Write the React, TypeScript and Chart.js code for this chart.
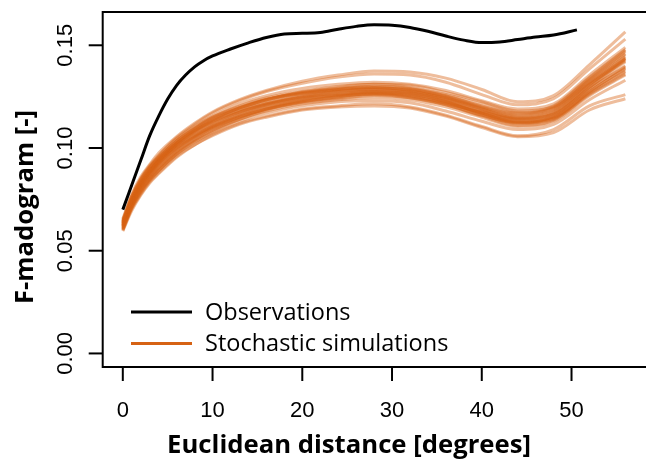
import React, { useEffect, useRef } from "react";
import { Chart, registerables } from "chart.js";

Chart.register(...registerables);

// Observed F-madogram against Euclidean distance (degrees)
const obsDistance = [0, 1, 2, 3, 4, 5, 6, 7, 8, 9, 10, 12, 14, 16, 18, 20, 22, 24, 26, 28, 30, 32, 34, 36, 38, 40, 42, 44, 46, 48, 50.6];
const obsMadogram = [0.070, 0.082, 0.094, 0.106, 0.1155, 0.1238, 0.1305, 0.1355, 0.1395, 0.1425, 0.1448, 0.1482, 0.1512, 0.1538, 0.1555, 0.1558, 0.1562, 0.1578, 0.1592, 0.1600, 0.1598, 0.1587, 0.1568, 0.1545, 0.1525, 0.1513, 0.1516, 0.1528, 0.1540, 0.1550, 0.1575];

// Madograms of the stochastic simulations, all on the same distance grid
const simDistance = [0, 1, 2, 3, 4, 6, 8, 10, 13, 16, 20, 24, 28, 32, 36, 40, 44, 48, 52, 56];
const sim01 = [0.0655, 0.0775, 0.0860, 0.0920, 0.0975, 0.1055, 0.1120, 0.1175, 0.1235, 0.1280, 0.1325, 0.1355, 0.1375, 0.1370, 0.1340, 0.1285, 0.1225, 0.1255, 0.1405, 0.1565];
const sim02 = [0.0645, 0.0765, 0.0850, 0.0915, 0.0965, 0.1050, 0.1115, 0.1170, 0.1230, 0.1275, 0.1315, 0.1345, 0.1360, 0.1355, 0.1320, 0.1260, 0.1210, 0.1240, 0.1385, 0.1530];
const sim03 = [0.0595, 0.0695, 0.0770, 0.0830, 0.0875, 0.0955, 0.1015, 0.1060, 0.1115, 0.1150, 0.1185, 0.1200, 0.1205, 0.1195, 0.1155, 0.1100, 0.1055, 0.1075, 0.1185, 0.1240];
const sim04 = [0.0600, 0.0705, 0.0775, 0.0835, 0.0880, 0.0960, 0.1015, 0.1065, 0.1120, 0.1155, 0.1190, 0.1205, 0.1215, 0.1200, 0.1160, 0.1105, 0.1060, 0.1090, 0.1205, 0.1260];
const sim05 = [0.0645, 0.0765, 0.0850, 0.0910, 0.0960, 0.1045, 0.1105, 0.1155, 0.1215, 0.1255, 0.1290, 0.1310, 0.1320, 0.1310, 0.1280, 0.1230, 0.1190, 0.1215, 0.1355, 0.1490];
const sim06 = [0.0640, 0.0755, 0.0840, 0.0905, 0.0955, 0.1035, 0.1095, 0.1150, 0.1205, 0.1245, 0.1275, 0.1295, 0.1310, 0.1305, 0.1270, 0.1225, 0.1180, 0.1200, 0.1335, 0.1470];
const sim07 = [0.0635, 0.0750, 0.0835, 0.0895, 0.0945, 0.1025, 0.1090, 0.1140, 0.1195, 0.1235, 0.1275, 0.1300, 0.1310, 0.1295, 0.1255, 0.1200, 0.1160, 0.1190, 0.1325, 0.1455];
const sim08 = [0.0630, 0.0745, 0.0825, 0.0885, 0.0940, 0.1020, 0.1080, 0.1130, 0.1185, 0.1220, 0.1255, 0.1275, 0.1290, 0.1285, 0.1255, 0.1205, 0.1170, 0.1200, 0.1340, 0.1475];
const sim09 = [0.0625, 0.0740, 0.0820, 0.0880, 0.0930, 0.1010, 0.1065, 0.1115, 0.1175, 0.1215, 0.1250, 0.1265, 0.1275, 0.1265, 0.1230, 0.1175, 0.1135, 0.1160, 0.1295, 0.1420];
const sim10 = [0.0620, 0.0730, 0.0810, 0.0870, 0.0915, 0.0995, 0.1055, 0.1110, 0.1165, 0.1210, 0.1250, 0.1275, 0.1285, 0.1270, 0.1235, 0.1180, 0.1140, 0.1170, 0.1310, 0.1440];
const sim11 = [0.0615, 0.0720, 0.0800, 0.0860, 0.0910, 0.0990, 0.1050, 0.1095, 0.1150, 0.1190, 0.1225, 0.1245, 0.1260, 0.1250, 0.1220, 0.1170, 0.1130, 0.1150, 0.1275, 0.1385];
const sim12 = [0.0610, 0.0715, 0.0795, 0.0850, 0.0900, 0.0980, 0.1040, 0.1090, 0.1140, 0.1180, 0.1215, 0.1235, 0.1245, 0.1235, 0.1200, 0.1150, 0.1105, 0.1130, 0.1255, 0.1355];
const sim13 = [0.0605, 0.0710, 0.0785, 0.0845, 0.0890, 0.0970, 0.1030, 0.1075, 0.1130, 0.1170, 0.1205, 0.1225, 0.1230, 0.1220, 0.1180, 0.1130, 0.1090, 0.1115, 0.1235, 0.1330];
const sim14 = [0.0635, 0.0750, 0.0830, 0.0890, 0.0945, 0.1025, 0.1085, 0.1135, 0.1190, 0.1235, 0.1265, 0.1285, 0.1295, 0.1280, 0.1245, 0.1190, 0.1150, 0.1180, 0.1315, 0.1435];
const sim15 = [0.0620, 0.0725, 0.0805, 0.0865, 0.0920, 0.1000, 0.1060, 0.1105, 0.1160, 0.1200, 0.1230, 0.1250, 0.1265, 0.1260, 0.1225, 0.1165, 0.1120, 0.1140, 0.1265, 0.1370];
const sim16 = [0.0625, 0.0735, 0.0815, 0.0880, 0.0935, 0.1015, 0.1075, 0.1125, 0.1175, 0.1215, 0.1245, 0.1260, 0.1270, 0.1255, 0.1215, 0.1160, 0.1125, 0.1155, 0.1295, 0.1430];
const sim17 = [0.0600, 0.0705, 0.0780, 0.0840, 0.0890, 0.0970, 0.1030, 0.1080, 0.1140, 0.1185, 0.1225, 0.1250, 0.1265, 0.1250, 0.1210, 0.1155, 0.1110, 0.1135, 0.1260, 0.1360];
const sim18 = [0.0650, 0.0765, 0.0845, 0.0905, 0.0955, 0.1035, 0.1095, 0.1145, 0.1195, 0.1235, 0.1270, 0.1285, 0.1295, 0.1290, 0.1260, 0.1215, 0.1175, 0.1205, 0.1345, 0.1480];
const sim19 = [0.0630, 0.0740, 0.0825, 0.0890, 0.0940, 0.1025, 0.1085, 0.1130, 0.1180, 0.1220, 0.1260, 0.1285, 0.1300, 0.1290, 0.1250, 0.1195, 0.1155, 0.1185, 0.1320, 0.1445];
const sim20 = [0.0615, 0.0725, 0.0805, 0.0870, 0.0925, 0.1005, 0.1060, 0.1105, 0.1155, 0.1195, 0.1235, 0.1260, 0.1275, 0.1265, 0.1225, 0.1170, 0.1125, 0.1150, 0.1285, 0.1400];
const sim21 = [0.0640, 0.0755, 0.0835, 0.0900, 0.0950, 0.1035, 0.1100, 0.1150, 0.1200, 0.1240, 0.1265, 0.1280, 0.1285, 0.1275, 0.1245, 0.1200, 0.1165, 0.1195, 0.1330, 0.1460];
const sim22 = [0.0610, 0.0720, 0.0795, 0.0855, 0.0905, 0.0985, 0.1045, 0.1100, 0.1160, 0.1205, 0.1240, 0.1255, 0.1260, 0.1245, 0.1210, 0.1160, 0.1120, 0.1145, 0.1270, 0.1375];
const sim23 = [0.0625, 0.0735, 0.0820, 0.0880, 0.0930, 0.1015, 0.1080, 0.1135, 0.1195, 0.1235, 0.1270, 0.1290, 0.1295, 0.1280, 0.1240, 0.1185, 0.1145, 0.1175, 0.1310, 0.1425];
const sim24 = [0.0620, 0.0730, 0.0815, 0.0875, 0.0925, 0.1000, 0.1055, 0.1100, 0.1150, 0.1190, 0.1220, 0.1240, 0.1255, 0.1245, 0.1215, 0.1175, 0.1140, 0.1165, 0.1305, 0.1435];
const sim25 = [0.0635, 0.0745, 0.0830, 0.0890, 0.0935, 0.1015, 0.1075, 0.1120, 0.1175, 0.1210, 0.1245, 0.1270, 0.1280, 0.1275, 0.1240, 0.1190, 0.1145, 0.1165, 0.1290, 0.1395];
const sim26 = [0.0605, 0.0715, 0.0790, 0.0850, 0.0895, 0.0975, 0.1035, 0.1085, 0.1145, 0.1190, 0.1230, 0.1255, 0.1270, 0.1260, 0.1225, 0.1170, 0.1125, 0.1145, 0.1275, 0.1390];
const simulations = [
  sim01, sim02, sim03, sim04, sim05, sim06, sim07, sim08, sim09, sim10, sim11, sim12, sim13,
  sim14, sim15, sim16, sim17, sim18, sim19, sim20, sim21, sim22, sim23, sim24, sim25, sim26,
];

const xTicks = [0, 10, 20, 30, 40, 50];
const yTicks = [0, 0.05, 0.1, 0.15];
const yTickLabels = ["0.00", "0.05", "0.10", "0.15"];

const legendLabels = ["Observations", "Stochastic simulations"];
const xTitle = "Euclidean distance [degrees]";
const yTitle = "F-madogram [-]";

const OBS_COLOR = "#000000";
const SIM_COLOR = "rgb(214, 98, 20)";
const SIM_LINE = "rgba(214, 98, 20, 0.42)";

const TICK_FONT = '22px "Liberation Sans", Arial, sans-serif';
const TITLE_FONT = 'bold 25.7px "Open Sans", "Noto Sans", sans-serif';
const LEGEND_FONT = '23.5px "Open Sans", "Noto Sans", sans-serif';

// Draws the base-graphics style frame, axes, titles and legend
const framePlugin = {
  id: "frame",
  afterDatasetsDraw(chart: any) {
    const { ctx, chartArea: a, scales } = chart;
    const xs = scales.x;
    const ys = scales.y;
    ctx.save();
    ctx.strokeStyle = "#000";
    ctx.lineWidth = 2;
    ctx.lineCap = "butt";

    // box (its right side runs past the canvas edge)
    ctx.beginPath();
    ctx.moveTo(a.right + 2, a.top);
    ctx.lineTo(a.left, a.top);
    ctx.lineTo(a.left, a.bottom);
    ctx.lineTo(a.right + 2, a.bottom);
    ctx.stroke();

    // x axis ticks and labels
    ctx.font = TICK_FONT;
    ctx.fillStyle = "#000";
    ctx.textAlign = "center";
    ctx.textBaseline = "alphabetic";
    xTicks.forEach((v) => {
      const px = xs.getPixelForValue(v);
      ctx.beginPath();
      ctx.moveTo(px, a.bottom);
      ctx.lineTo(px, a.bottom + 14);
      ctx.stroke();
      ctx.fillText(String(v), px, a.bottom + 50);
    });

    // y axis ticks and rotated labels
    yTicks.forEach((v, i) => {
      const py = ys.getPixelForValue(v);
      ctx.beginPath();
      ctx.moveTo(a.left - 14, py);
      ctx.lineTo(a.left, py);
      ctx.stroke();
      ctx.save();
      ctx.translate(a.left - 31, py);
      ctx.rotate(-Math.PI / 2);
      ctx.fillText(yTickLabels[i], 0, 0);
      ctx.restore();
    });

    // axis titles
    ctx.font = TITLE_FONT;
    ctx.fillText(xTitle, 349, 453);
    ctx.save();
    ctx.translate(33, 207);
    ctx.rotate(-Math.PI / 2);
    ctx.fillText(yTitle, 0, 0);
    ctx.restore();

    // legend
    const legendColors = [OBS_COLOR, SIM_COLOR];
    const rows = [312, 343.5];
    ctx.lineWidth = 3;
    ctx.font = LEGEND_FONT;
    ctx.textAlign = "left";
    ctx.textBaseline = "middle";
    rows.forEach((ry, i) => {
      ctx.strokeStyle = legendColors[i];
      ctx.beginPath();
      ctx.moveTo(131, ry);
      ctx.lineTo(192, ry);
      ctx.stroke();
      ctx.fillText(legendLabels[i], 205, ry + 1);
    });
    ctx.restore();
  },
};

export default function App() {
  const canvasRef = useRef<HTMLCanvasElement | null>(null);

  useEffect(() => {
    const canvas = canvasRef.current;
    if (!canvas) return;

    const datasets: any[] = [
      {
        label: legendLabels[0],
        data: obsDistance.map((d, i) => ({ x: d, y: obsMadogram[i] })),
        borderColor: OBS_COLOR,
        borderWidth: 3,
      },
      ...simulations.map((sim, k) => ({
        label: `${legendLabels[1]} ${k + 1}`,
        data: simDistance.map((d, i) => ({ x: d, y: sim[i] })),
        borderColor: SIM_LINE,
        borderWidth: 3,
      })),
    ];

    const chart = new Chart(canvas, {
      type: "line",
      data: { datasets },
      options: {
        responsive: false,
        animation: false,
        events: [],
        layout: { padding: { left: 102.7, top: 12, right: 0, bottom: 94 } },
        elements: {
          point: { radius: 0 },
          line: { cubicInterpolationMode: "monotone", fill: false },
        },
        scales: {
          x: { type: "linear", min: -2.24, max: 58.3, display: false },
          y: { type: "linear", min: -0.0066, max: 0.1662, display: false },
        },
        plugins: {
          legend: { display: false },
          tooltip: { enabled: false },
        },
      },
      plugins: [framePlugin],
    });

    return () => chart.destroy();
  }, []);

  return (
    <div style={{ position: "absolute", left: 0, top: 0, width: 646, height: 461, background: "#fff" }}>
      <canvas ref={canvasRef} width={646} height={461} style={{ display: "block" }} />
    </div>
  );
}
